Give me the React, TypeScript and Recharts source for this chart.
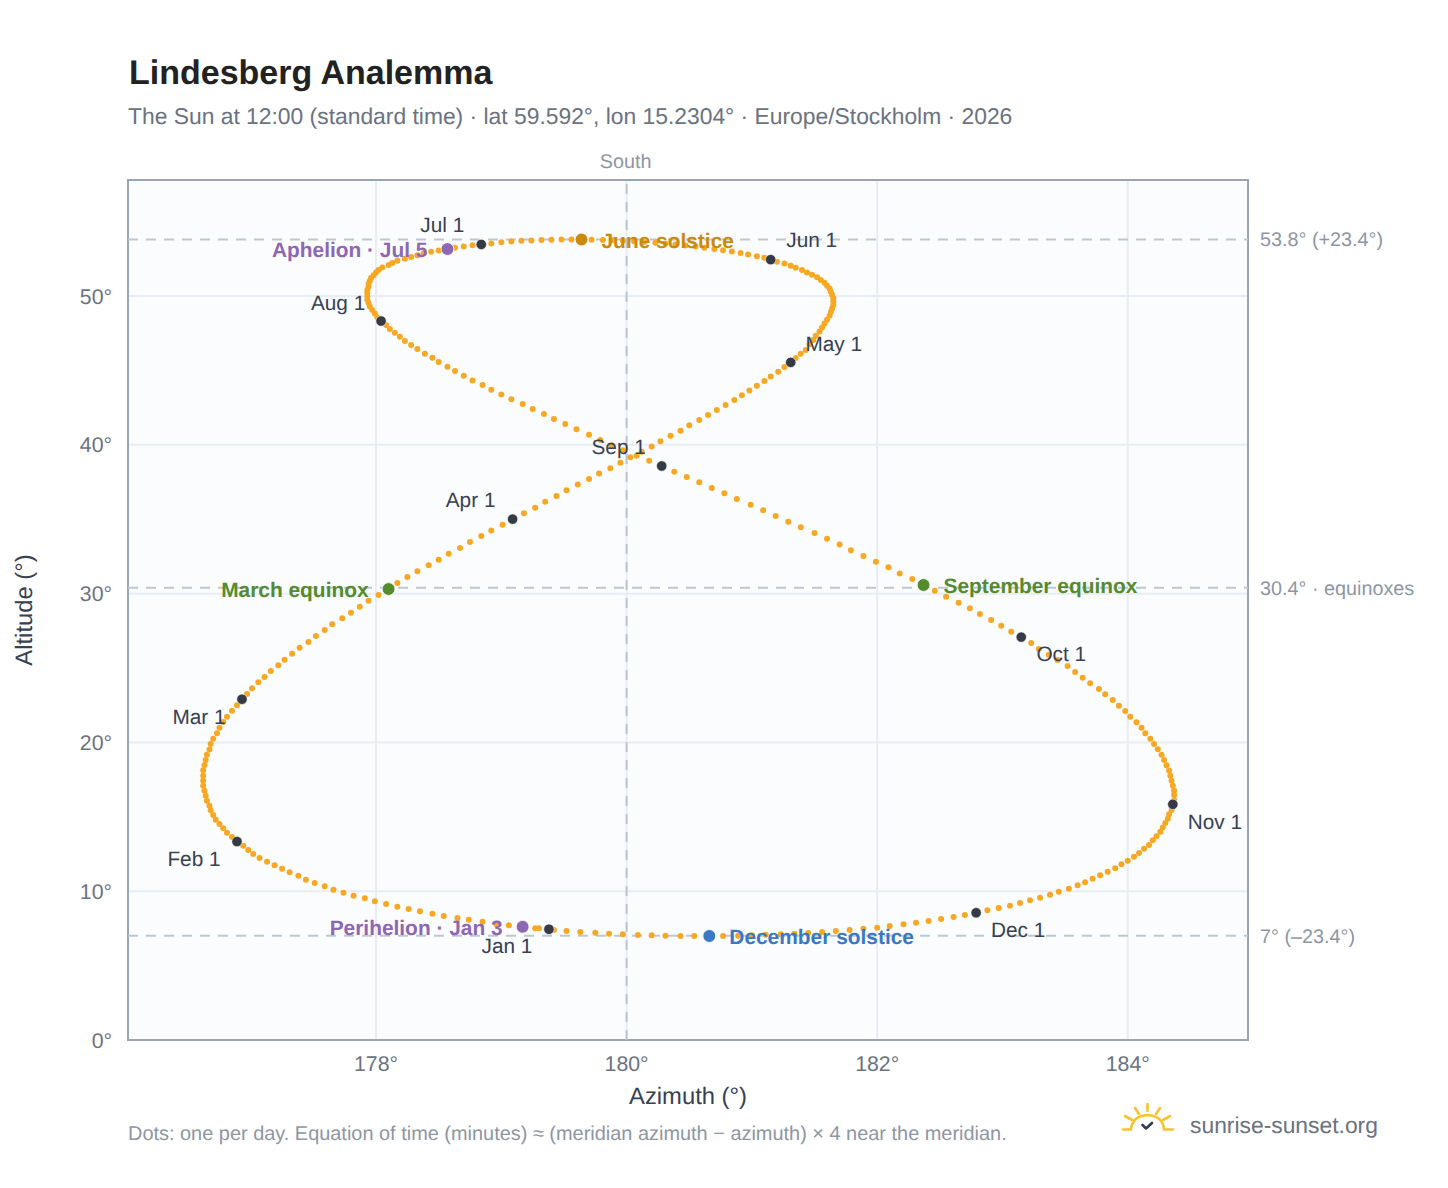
import React from 'react';
import { ComposedChart, Scatter, XAxis, YAxis, CartesianGrid, ReferenceLine, ReferenceArea } from 'recharts';

// Daily azimuth (deg) per month
const azJan = [179.38,179.27,179.17,179.06,178.96,178.85,178.74,178.65,178.54,178.45,178.35,178.26,178.17,178.08,177.99,177.91,177.82,177.74,177.66,177.59,177.51,177.44,177.38,177.31,177.25,177.19,177.13,177.07,177.02,176.98,176.94];
const azFeb = [176.89,176.85,176.81,176.78,176.75,176.72,176.70,176.68,176.67,176.65,176.64,176.63,176.62,176.62,176.62,176.62,176.63,176.64,176.65,176.67,176.68,176.70,176.73,176.75,176.78,176.81,176.85,176.89];
const azMar = [176.93,176.97,177.01,177.06,177.11,177.16,177.22,177.27,177.33,177.39,177.46,177.52,177.59,177.65,177.73,177.80,177.87,177.94,178.02,178.10,178.17,178.25,178.33,178.42,178.50,178.58,178.67,178.75,178.84,178.92,179.01];
const azApr = [179.09,179.18,179.27,179.35,179.44,179.52,179.61,179.70,179.78,179.87,179.95,180.03,180.12,180.20,180.27,180.35,180.43,180.50,180.58,180.65,180.72,180.79,180.86,180.92,180.98,181.04,181.10,181.15,181.21,181.26];
const azMay = [181.31,181.35,181.39,181.43,181.46,181.49,181.51,181.54,181.56,181.58,181.60,181.62,181.63,181.64,181.65,181.65,181.65,181.64,181.63,181.62,181.60,181.58,181.55,181.52,181.48,181.44,181.40,181.35,181.31,181.26,181.20];
const azJun = [181.15,181.10,181.04,180.97,180.91,180.84,180.77,180.70,180.62,180.55,180.47,180.39,180.31,180.23,180.14,180.06,179.97,179.89,179.81,179.72,179.64,179.56,179.48,179.40,179.32,179.24,179.16,179.08,179.00,178.92];
const azJul = [178.84,178.77,178.70,178.63,178.57,178.50,178.44,178.38,178.33,178.28,178.23,178.17,178.13,178.10,178.05,178.02,178.00,177.98,177.96,177.95,177.94,177.94,177.93,177.93,177.93,177.93,177.94,177.95,177.97,177.99,178.01];
const azAug = [178.04,178.08,178.11,178.15,178.19,178.23,178.28,178.33,178.39,178.45,178.50,178.57,178.63,178.70,178.77,178.85,178.92,179.00,179.08,179.17,179.25,179.34,179.42,179.51,179.60,179.70,179.79,179.88,179.97,180.08,180.18];
const azSep = [180.28,180.38,180.48,180.58,180.68,180.78,180.88,180.99,181.09,181.19,181.29,181.39,181.50,181.60,181.70,181.79,181.89,181.99,182.09,182.18,182.28,182.37,182.46,182.55,182.65,182.74,182.82,182.91,182.99,183.07];
const azOct = [183.15,183.23,183.29,183.37,183.44,183.52,183.58,183.64,183.70,183.77,183.82,183.88,183.93,183.98,184.02,184.07,184.11,184.14,184.18,184.21,184.24,184.27,184.29,184.31,184.33,184.34,184.35,184.36,184.37,184.37,184.37];
const azNov = [184.36,184.35,184.33,184.32,184.30,184.28,184.26,184.23,184.20,184.17,184.13,184.09,184.05,184.00,183.95,183.90,183.84,183.78,183.72,183.66,183.60,183.53,183.45,183.38,183.30,183.22,183.14,183.06,182.97,182.88];
const azDec = [182.79,182.70,182.61,182.51,182.41,182.31,182.21,182.10,182.00,181.89,181.78,181.67,181.56,181.45,181.34,181.23,181.11,181.00,180.89,180.77,180.66,180.54,180.43,180.31,180.20,180.09,179.97,179.86,179.75,179.63,179.52,179.42,179.30];

// Daily altitude (deg) per month
const altJan = [7.44,7.51,7.61,7.71,7.80,7.95,8.08,8.20,8.33,8.49,8.65,8.80,8.96,9.14,9.32,9.52,9.70,9.90,10.10,10.33,10.55,10.77,11.04,11.27,11.51,11.74,11.98,12.23,12.50,12.77,13.06];
const altFeb = [13.34,13.64,13.93,14.23,14.52,14.81,15.12,15.44,15.75,16.08,16.42,16.75,17.09,17.43,17.76,18.13,18.48,18.82,19.17,19.53,19.89,20.25,20.61,20.99,21.37,21.73,22.13,22.49];
const altMar = [22.90,23.25,23.64,24.04,24.40,24.80,25.18,25.56,25.96,26.36,26.75,27.15,27.55,27.94,28.34,28.72,29.12,29.52,29.91,30.31,30.71,31.12,31.50,31.90,32.28,32.68,33.06,33.47,33.87,34.25,34.63];
const altApr = [35.01,35.40,35.78,36.17,36.56,36.94,37.33,37.71,38.08,38.42,38.80,39.16,39.54,39.89,40.24,40.61,40.95,41.31,41.67,42.00,42.34,42.67,43.01,43.33,43.66,43.97,44.29,44.60,44.91,45.23];
const altMay = [45.54,45.83,46.12,46.37,46.76,47.05,47.33,47.61,47.88,48.15,48.41,48.67,48.92,49.16,49.40,49.63,49.86,50.08,50.29,50.50,50.70,50.89,51.08,51.26,51.43,51.59,51.75,51.90,52.04,52.18,52.31];
const altJun = [52.45,52.57,52.68,52.79,52.89,52.99,53.08,53.17,53.25,53.33,53.40,53.47,53.53,53.58,53.63,53.68,53.71,53.75,53.77,53.79,53.80,53.80,53.80,53.78,53.76,53.74,53.71,53.67,53.62,53.53];
const altJul = [53.47,53.41,53.33,53.25,53.16,53.07,52.97,52.87,52.75,52.62,52.50,52.37,52.23,52.08,51.92,51.75,51.58,51.40,51.21,51.02,50.82,50.62,50.41,50.20,49.98,49.76,49.53,49.30,49.06,48.82,48.57];
const altAug = [48.32,48.05,47.78,47.53,47.27,46.98,46.71,46.44,46.12,45.85,45.56,45.25,44.96,44.64,44.33,44.02,43.70,43.39,43.06,42.74,42.41,42.07,41.73,41.40,41.04,40.68,40.32,39.97,39.63,39.27,38.93];
const altSep = [38.58,38.19,37.84,37.48,37.10,36.74,36.36,35.97,35.60,35.22,34.83,34.46,34.07,33.69,33.31,32.91,32.53,32.14,31.77,31.36,30.98,30.58,30.20,29.79,29.39,29.01,28.63,28.23,27.84,27.44];
const altOct = [27.08,26.68,26.28,25.89,25.54,25.13,24.73,24.35,23.97,23.59,23.23,22.85,22.47,22.11,21.73,21.35,20.99,20.61,20.25,19.89,19.54,19.17,18.82,18.46,18.12,17.76,17.43,17.09,16.75,16.47,16.13];
const altNov = [15.84,15.46,15.17,14.87,14.58,14.29,14.00,13.69,13.42,13.10,12.86,12.57,12.32,12.05,11.81,11.54,11.31,11.07,10.84,10.60,10.40,10.17,9.97,9.76,9.56,9.39,9.21,9.03,8.87,8.72];
const altDec = [8.55,8.40,8.27,8.13,8.00,7.88,7.78,7.66,7.55,7.48,7.39,7.33,7.26,7.19,7.14,7.10,7.08,7.04,7.01,6.99,6.99,6.99,6.99,7.01,7.04,7.06,7.10,7.14,7.21,7.26,7.33,7.39,7.51];

// First-of-month markers
const monthLabels = ['Jan 1','Feb 1','Mar 1','Apr 1','May 1','Jun 1','Jul 1','Aug 1','Sep 1','Oct 1','Nov 1','Dec 1'];
const monthAz = [179.38,176.89,176.93,179.09,181.31,181.15,178.84,178.04,180.28,183.15,184.36,182.79];
const monthAlt = [7.44,13.34,22.90,35.01,45.54,52.45,53.47,48.32,38.58,27.08,15.84,8.55];

// Named events
const eventLabels = ['March equinox','June solstice','September equinox','December solstice','Perihelion · Jan 3','Aphelion · Jul 5'];
const eventAz = [178.10,179.64,182.37,180.66,179.17,178.57];
const eventAlt = [30.31,53.80,30.58,6.99,7.61,53.16];

// Reference lines
const refAlts = [53.8,30.4,7];
const refLabels = ['53.8° (+23.4°)','30.4° · equinoxes','7° (–23.4°)'];

const xTicks = [178,180,182,184];
const yTicks = [0,10,20,30,40,50];

const azAll = [azJan,azFeb,azMar,azApr,azMay,azJun,azJul,azAug,azSep,azOct,azNov,azDec].flat();
const altAll = [altJan,altFeb,altMar,altApr,altMay,altJun,altJul,altAug,altSep,altOct,altNov,altDec].flat();
const daily = azAll.map((az, i) => ({ az, alt: altAll[i] }));
const months = monthLabels.map((label, i) => ({ label, az: monthAz[i], alt: monthAlt[i] }));
const events = eventLabels.map((label, i) => ({ label, az: eventAz[i], alt: eventAlt[i] }));

const FONT = '"Liberation Sans", Arial, sans-serif';
const monthOffsets: Record<string, [number, number]> = {
  'Jan 1': [-42, 16], 'Feb 1': [-43, 17], 'Mar 1': [-43, 17], 'Apr 1': [-42, -19],
  'May 1': [43, -19], 'Jun 1': [41, -20], 'Jul 1': [-39, -19.5], 'Aug 1': [-43, -18],
  'Sep 1': [-43, -19], 'Oct 1': [40, 17], 'Nov 1': [42, 17], 'Dec 1': [42, 17],
};
const eventStyle: Record<string, { color: string; side: number; dy: number }> = {
  'March equinox': { color: '#558b2f', side: -1, dy: 1 },
  'June solstice': { color: '#c98a10', side: 1, dy: 1 },
  'September equinox': { color: '#558b2f', side: 1, dy: 1 },
  'December solstice': { color: '#3a78c2', side: 1, dy: 1 },
  'Perihelion · Jan 3': { color: '#8e67b3', side: -1, dy: 1 },
  'Aphelion · Jul 5': { color: '#8e67b3', side: -1, dy: 1 },
};

const XMIN = 176.02, XMAX = 184.96, YMIN = 0, YMAX = 57.8;

export default function App() {
  return (
    <div style={{ position: 'absolute', left: 0, top: 0, width: 1448, height: 1188, fontFamily: FONT, background: '#fff', overflow: 'hidden', textRendering: 'geometricPrecision' }}>
      <div style={{ position: 'absolute', left: 129, top: 53, fontSize: 34, fontWeight: 700, color: '#222222', lineHeight: '40px' }}>Lindesberg Analemma</div>
      <div style={{ position: 'absolute', left: 128, top: 103, fontSize: 22.85, color: '#6b7280', lineHeight: '26px', whiteSpace: 'nowrap' }}>The Sun at 12:00 (standard time) · lat 59.592°, lon 15.2304° · Europe/Stockholm · 2026</div>
      <ComposedChart width={1448} height={1188} data={daily} margin={{ top: 180, left: 0, right: 200, bottom: 0 }} style={{ position: 'absolute', left: 0, top: 0, fontFamily: FONT }}>
        <CartesianGrid fill="#fbfcfe" stroke="#e8edf3" strokeWidth={2} horizontalValues={yTicks} verticalValues={xTicks} />
        <XAxis type="number" dataKey="az" domain={[XMIN, XMAX]} ticks={xTicks} allowDataOverflow axisLine={false} tickLine={false} height={148}
          tickFormatter={(v: number) => `${v}°`} tick={{ fill: '#6b7280', fontSize: 21.3 }} tickMargin={10}
          label={{ value: 'Azimuth (°)', position: 'insideTop', offset: 47, fill: '#374151', fontSize: 23.8 }} />
        <YAxis type="number" dataKey="alt" domain={[YMIN, YMAX]} ticks={yTicks} allowDataOverflow axisLine={false} tickLine={false} width={128}
          tickFormatter={(v: number) => `${v}°`} tick={{ fill: '#6b7280', fontSize: 21.3 }} tickMargin={10}
          label={{ value: 'Altitude (°)', angle: -90, position: 'insideLeft', offset: 24, fill: '#374151', fontSize: 23.8, style: { textAnchor: 'middle' } }} />
        <ReferenceArea x1={XMIN} x2={XMAX} y1={YMIN} y2={YMAX} fill="none" stroke="#9aa5b4" strokeWidth={2} />
        {refAlts.map((a, i) => (
          <ReferenceLine key={a} y={a} stroke="#bcc7d1" strokeWidth={2} strokeDasharray="10 8"
            label={(p: any) => (
              <text x={p.viewBox.x + p.viewBox.width + 12} y={p.viewBox.y} dy="0.35em" fill="#8d96a3" fontSize={19.8} fontFamily={FONT}>{refLabels[i]}</text>
            )} />
        ))}
        <ReferenceLine x={180} stroke="#b9c6d2" strokeWidth={2} strokeDasharray="10 8"
          label={(p: any) => (
            <text x={p.viewBox.x - 1} y={p.viewBox.y - 19} dy="0.35em" textAnchor="middle" fill="#8d96a3" fontSize={19.8} fontFamily={FONT}>South</text>
          )} />
        <Scatter data={daily} dataKey="alt" isAnimationActive={false}
          shape={(p: any) => <circle cx={p.cx} cy={p.cy} r={3} fill="#f7a823" />} />
        <Scatter data={months} dataKey="alt" isAnimationActive={false}
          shape={(p: any) => <circle cx={p.cx} cy={p.cy} r={5.2} fill="#343a46" stroke="#ffffff" strokeWidth={0.6} />} />
        <Scatter data={events} dataKey="alt" isAnimationActive={false}
          shape={(p: any) => <circle cx={p.cx} cy={p.cy} r={6.4} fill={eventStyle[p.payload.label].color} stroke="#ffffff" strokeWidth={0.8} />} />
        <Scatter data={months} dataKey="alt" isAnimationActive={false}
          shape={(p: any) => {
            const label = p.payload.label;
            const [dx, dy] = monthOffsets[label];
            return <text x={p.cx + dx} y={p.cy + dy} dy="0.35em" textAnchor="middle" fill="#374151" fontSize={20.8} fontFamily={FONT}>{label}</text>;
          }} />
        <Scatter data={events} dataKey="alt" isAnimationActive={false}
          shape={(p: any) => {
            const s = eventStyle[p.payload.label];
            return <text x={p.cx + s.side * 20} y={p.cy + s.dy} dy="0.35em" textAnchor={s.side > 0 ? 'start' : 'end'} fill={s.color} fontSize={20.9} fontWeight={700} fontFamily={FONT}>{p.payload.label}</text>;
          }} />
      </ComposedChart>
      <div style={{ position: 'absolute', left: 128, top: 1123, fontSize: 19.93, color: '#8d96a3', lineHeight: '22px', whiteSpace: 'nowrap' }}>Dots: one per day. Equation of time (minutes) ≈ (meridian azimuth − azimuth) × 4 near the meridian.</div>
      <svg style={{ position: 'absolute', left: 1120, top: 1100 }} width={56} height={36} viewBox="0 0 56 36">
        <path d="M3 29.5 H11 Q12 16 27.5 15 Q43 16 44 29.5 H53" fill="none" stroke="#f9c22e" strokeWidth={2.6} strokeLinecap="round" />
        <path d="M27.5 4 V11 M15 8 L19 14 M40 8 L36 14 M5 16 L12 20 M50 16 L43 20" fill="none" stroke="#f9c22e" strokeWidth={2.6} strokeLinecap="round" />
        <path d="M22.5 25 L26 28.5 L32 23" fill="none" stroke="#2f3e55" strokeWidth={2.6} strokeLinecap="round" strokeLinejoin="round" />
      </svg>
      <div style={{ position: 'absolute', left: 1190, top: 1111, fontSize: 22.85, color: '#6b7280', lineHeight: '28px', whiteSpace: 'nowrap' }}>sunrise-sunset.org</div>
    </div>
  );
}
